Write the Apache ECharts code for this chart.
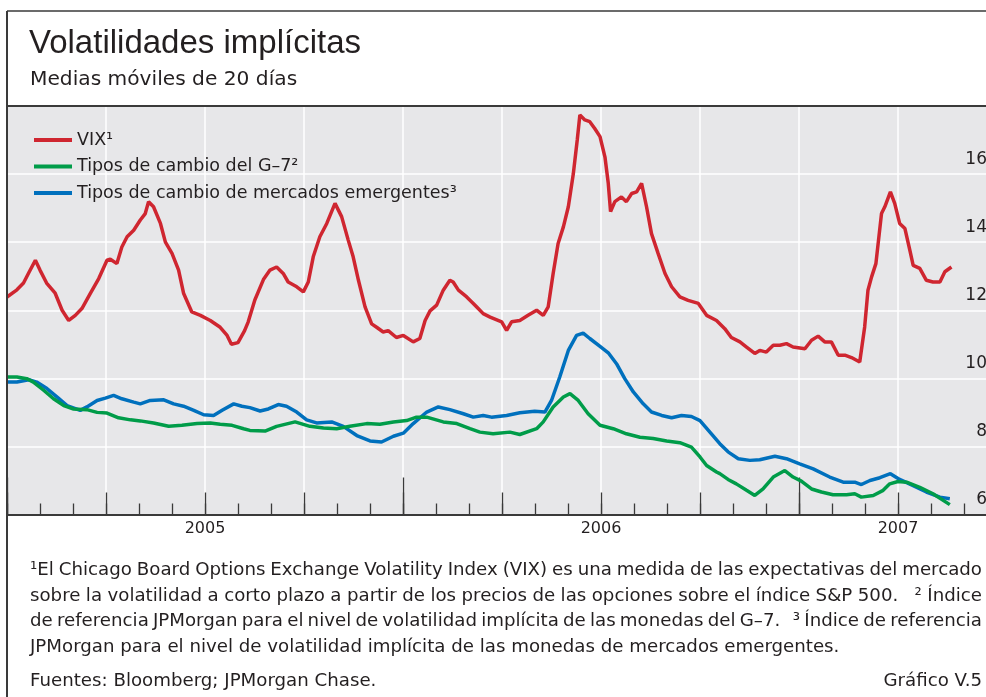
<!DOCTYPE html>
<html>
<head>
<meta charset="utf-8">
<script src="https://cdn.jsdelivr.net/npm/echarts@6/dist/echarts.min.js"></script>
<style>
html,body{margin:0;padding:0;background:#fff;}
#c{width:986px;height:697px;}
</style>
</head>
<body>
<div id="c"></div>
<script>
// x values: months since 1 Jan 2005
var vixMonths = [0,0.3,0.5,0.66,0.86,1.0,1.2,1.46,1.67,1.87,2.07,2.27,2.53,2.78,3.03,3.13,3.33,3.48,3.64,3.84,4.04,4.19,4.29,4.44,4.65,4.8,5.0,5.2,5.35,5.6,5.86,6.16,6.46,6.67,6.8,7.0,7.2,7.31,7.51,7.77,7.97,8.17,8.37,8.52,8.78,8.98,9.13,9.28,9.48,9.69,9.94,10.14,10.34,10.49,10.65,10.85,11.05,11.2,11.4,11.55,11.8,12.01,12.31,12.51,12.67,12.82,13.02,13.22,13.42,13.52,13.68,13.93,14.13,14.28,14.43,14.64,14.99,15.14,15.29,15.54,15.79,16.05,16.25,16.4,16.55,16.7,16.86,17.01,17.16,17.28,17.36,17.51,17.66,17.81,17.97,18.12,18.22,18.29,18.42,18.62,18.77,18.93,19.08,19.23,19.38,19.53,19.73,19.94,20.14,20.39,20.64,20.95,21.2,21.5,21.75,21.95,22.21,22.41,22.66,22.81,23.01,23.22,23.42,23.62,23.82,24.18,24.38,24.58,24.78,24.98,25.19,25.39,25.59,25.84,25.99,26.09,26.2,26.33,26.5,26.6,26.77,26.9,27.05,27.21,27.36,27.46,27.66,27.86,28.06,28.27,28.42,28.62];
var vixValues = [12.39,12.6,12.8,13.1,13.47,13.18,12.8,12.5,12.0,11.7,11.85,12.05,12.5,12.93,13.47,13.5,13.37,13.86,14.16,14.35,14.65,14.84,15.19,15.04,14.55,14.0,13.67,13.18,12.5,11.95,11.85,11.7,11.5,11.26,11.0,11.05,11.4,11.66,12.3,12.9,13.18,13.27,13.08,12.83,12.69,12.54,12.83,13.57,14.16,14.55,15.14,14.75,14.06,13.57,12.88,12.1,11.6,11.5,11.36,11.4,11.2,11.26,11.07,11.17,11.7,11.98,12.15,12.59,12.88,12.83,12.59,12.39,12.2,12.05,11.9,11.8,11.66,11.41,11.66,11.7,11.85,12.0,11.85,12.1,13.08,13.96,14.45,15.04,16.0,17.0,17.74,17.59,17.54,17.34,17.1,16.5,15.73,14.9,15.19,15.33,15.19,15.43,15.48,15.73,15.04,14.25,13.67,13.08,12.69,12.39,12.29,12.2,11.85,11.7,11.46,11.2,11.07,10.92,10.73,10.82,10.77,10.97,10.97,11.02,10.92,10.87,11.12,11.24,11.07,11.07,10.68,10.68,10.61,10.48,11.51,12.59,12.98,13.37,14.84,15.04,15.48,15.14,14.55,14.4,13.76,13.32,13.23,12.88,12.83,12.83,13.13,13.27];

var g7Months = [0,0.3,0.6,0.8,1.11,1.41,1.72,2.02,2.42,2.73,3.03,3.38,3.74,4.04,4.44,4.9,5.3,5.76,6.16,6.46,6.82,7.17,7.36,7.82,8.17,8.73,9.18,9.59,9.99,10.39,10.9,11.3,11.71,12.11,12.41,12.72,13.22,13.63,14.03,14.33,14.73,15.24,15.54,16.05,16.25,16.55,16.86,17.06,17.31,17.61,17.97,18.37,18.77,19.18,19.58,19.99,20.39,20.74,21.0,21.2,21.5,21.6,21.85,22.1,22.41,22.66,22.91,23.22,23.57,23.82,24.07,24.38,24.68,25.03,25.44,25.69,25.89,26.25,26.55,26.75,27.0,27.26,27.66,28.06,28.57];
var g7Values = [10.04,10.04,9.99,9.89,9.65,9.4,9.2,9.1,9.08,9.0,8.98,8.84,8.78,8.75,8.69,8.59,8.62,8.67,8.69,8.65,8.62,8.52,8.47,8.45,8.59,8.72,8.59,8.54,8.52,8.59,8.67,8.65,8.72,8.76,8.86,8.86,8.72,8.67,8.52,8.42,8.37,8.42,8.35,8.52,8.72,9.16,9.45,9.55,9.35,8.96,8.62,8.52,8.37,8.27,8.23,8.16,8.11,7.98,7.69,7.44,7.25,7.2,7.03,6.9,6.71,6.56,6.75,7.1,7.29,7.1,6.98,6.75,6.66,6.58,6.58,6.61,6.51,6.56,6.71,6.9,6.97,6.95,6.8,6.61,6.29];

var emMonths = [0,0.3,0.66,0.9,1.21,1.52,1.82,2.22,2.42,2.73,2.98,3.23,3.48,3.84,4.04,4.34,4.75,5.05,5.35,5.66,5.96,6.26,6.52,6.87,7.12,7.36,7.67,7.92,8.22,8.47,8.78,9.08,9.38,9.84,10.19,10.6,11.0,11.35,11.71,12.01,12.31,12.72,13.07,13.42,13.83,14.13,14.43,14.68,15.14,15.54,15.99,16.3,16.5,16.75,17.01,17.26,17.46,17.66,17.97,18.22,18.47,18.72,18.98,19.28,19.53,19.84,20.14,20.44,20.74,21.0,21.3,21.6,21.85,22.16,22.51,22.81,23.27,23.62,24.02,24.43,24.93,25.34,25.69,25.89,26.15,26.45,26.77,27.05,27.46,27.86,28.27,28.57];
var emValues = [9.89,9.89,9.96,9.89,9.7,9.45,9.2,9.06,9.16,9.35,9.42,9.5,9.4,9.3,9.25,9.35,9.37,9.25,9.18,9.06,8.93,8.91,9.06,9.25,9.18,9.14,9.04,9.1,9.23,9.18,9.01,8.78,8.69,8.72,8.59,8.32,8.16,8.13,8.3,8.39,8.67,9.01,9.16,9.08,8.96,8.86,8.91,8.86,8.91,8.99,9.03,9.01,9.35,10.04,10.82,11.26,11.33,11.17,10.94,10.75,10.43,9.99,9.6,9.25,9.01,8.91,8.84,8.91,8.88,8.76,8.42,8.08,7.84,7.64,7.59,7.61,7.71,7.64,7.49,7.34,7.1,6.95,6.95,6.88,7.0,7.08,7.2,7.03,6.85,6.66,6.51,6.46];

var seriesNames = ['VIX\u00B9', 'Tipos de cambio del G\u20137\u00B2', 'Tipos de cambio de mercados emergentes\u00B3'];
var yearLabels = {6: '2005', 18: '2006', 27: '2007'};
var yTicks = [6, 8, 10, 12, 14, 16];

var titleText = 'Volatilidades implícitas';
var subtitleText = 'Medias móviles de 20 días';
var noteLines = [
  '\u00B9El Chicago Board Options Exchange Volatility Index (VIX) es una medida de las expectativas del mercado',
  'sobre la volatilidad a corto plazo a partir de los precios de las opciones sobre el índice S&P 500.   \u00B2 Índice',
  'de referencia JPMorgan para el nivel de volatilidad implícita de las monedas del G\u20137.   \u00B3 Índice de referencia',
  'JPMorgan para el nivel de volatilidad implícita de las monedas de mercados emergentes.'
];
var sourceText = 'Fuentes: Bloomberg; JPMorgan Chase.';
var chartId = 'Gráfico V.5';

function pairs(xs, ys){ return xs.map(function(x,i){ return [x, ys[i]]; }); }

var FONT = '"Liberation Sans", Arial, sans-serif';
var BODY = '"DejaVu Sans", sans-serif';
var TXT = '#231f20';

// justified footnote lines (word placement)
var mctx = document.createElement('canvas').getContext('2d');
function justified(text, x0, x1, y, font, justify){
  mctx.font = font;
  var words = text.split(' ');
  var sp = mctx.measureText(' ').width;
  var ws = words.map(function(w){ return w ? mctx.measureText(w).width : 0; });
  var natural = ws.reduce(function(a,b){return a+b;},0) + sp*(words.length-1);
  var extra = justify && words.length > 1 ? (x1 - x0 - natural)/(words.length-1) : 0;
  var out = [], x = x0;
  words.forEach(function(w,i){
    if (w) out.push({type:'text', z:100, style:{x:x, y:y, text:w, font:font, fill:TXT, verticalAlign:'middle'}});
    x += ws[i] + sp + extra;
  });
  return out;
}

var NOTEFONT = '18.2px ' + BODY;
var graphics = [
  {type: 'line', z: 100, shape: {x1: 7, y1: 11, x2: 986, y2: 11}, style: {stroke: '#3a3a3a', lineWidth: 1.5}},
  {type: 'line', z: 100, shape: {x1: 7, y1: 11, x2: 7, y2: 697}, style: {stroke: '#3a3a3a', lineWidth: 2}},
  {type: 'line', z: 100, shape: {x1: 7, y1: 106, x2: 986, y2: 106}, style: {stroke: '#3a3a3a', lineWidth: 2}},
  {type: 'text', z: 100, style: {x: 29, y: 44, text: titleText, font: '33px ' + FONT, fill: TXT, verticalAlign: 'middle'}},
  {type: 'text', z: 100, style: {x: 30, y: 80, text: subtitleText, font: '20.2px ' + BODY, fill: TXT, verticalAlign: 'middle'}},
  {type: 'text', z: 100, style: {x: 30, y: 681, text: sourceText, font: NOTEFONT, fill: TXT, verticalAlign: 'middle'}},
  {type: 'text', z: 100, style: {x: 982, y: 681, text: chartId, font: NOTEFONT, fill: TXT, verticalAlign: 'middle', align: 'right'}}
];
var noteY = [570, 596, 621.5, 647];
noteLines.forEach(function(t, i){
  graphics = graphics.concat(justified(t, 30, 982, noteY[i], NOTEFONT, i < 3));
});

var chart = echarts.init(document.getElementById('c'), null, {renderer:'canvas'});
var option = {
  animation: false,
  backgroundColor: '#ffffff',
  textStyle: {fontFamily: BODY},
  grid: {left: 7, right: -11, top: 106, bottom: 182.5, show: true, backgroundColor: '#e7e7e9', borderWidth: 0, outerBoundsMode: 'none', containLabel: false},
  legend: {
    left: 29, top: 126, orient: 'vertical', itemWidth: 38, itemHeight: 4, itemGap: 8.5,
    icon: 'rect', textStyle: {fontSize: 17.5, color: TXT, fontFamily: BODY},
    data: seriesNames
  },
  xAxis: [
    {type: 'value', min: 0, max: 30, interval: 1, position: 'bottom',
     axisLine: {show: true, lineStyle: {color: '#3a3a3a', width: 2}},
     axisTick: {show: true, inside: true, length: 11, lineStyle: {color: '#3a3a3a', width: 1.3}},
     axisLabel: {show: false}, splitLine: {show: false}},
    {type: 'value', min: 0, max: 30, interval: 3, position: 'bottom',
     axisLine: {show: false},
     axisTick: {show: true, inside: true, length: 22, lineStyle: {color: '#3a3a3a', width: 1.3}},
     axisLabel: {show: true, margin: 6, fontSize: 16, color: TXT, fontFamily: BODY,
       formatter: function(v){ return yearLabels[v] || ''; }},
     splitLine: {show: true, lineStyle: {color: '#ffffff', width: 1.5}}},
    {type: 'value', min: 0, max: 30, interval: 12, position: 'bottom',
     axisLine: {show: false},
     axisTick: {show: true, inside: true, length: 37, lineStyle: {color: '#3a3a3a', width: 1.3}},
     axisLabel: {show: false}, splitLine: {show: false}}
  ],
  yAxis: {
    type: 'value', min: 6, max: 18, interval: 2, position: 'right',
    axisLine: {show: false}, axisTick: {show: false},
    axisLabel: {show: true, inside: true, margin: 10, fontSize: 17, color: TXT, fontFamily: BODY,
      verticalAlign: 'bottom', padding: [0,0,6,0], showMaxLabel: false,
      formatter: function(v){ return yTicks.indexOf(v) >= 0 ? String(v) : ''; }},
    splitLine: {show: true, lineStyle: {color: '#ffffff', width: 1.5}}
  },
  series: [
    {name: seriesNames[0], type: 'line', data: pairs(vixMonths, vixValues), showSymbol: false,
     lineStyle: {color: '#cf2630', width: 3.5}, itemStyle: {color: '#cf2630'}, z: 5},
    {name: seriesNames[1], type: 'line', data: pairs(g7Months, g7Values), showSymbol: false,
     lineStyle: {color: '#009c49', width: 3.5}, itemStyle: {color: '#009c49'}, z: 4},
    {name: seriesNames[2], type: 'line', data: pairs(emMonths, emValues), showSymbol: false,
     lineStyle: {color: '#0070bd', width: 3.5}, itemStyle: {color: '#0070bd'}, z: 3}
  ],
  graphic: graphics
};
chart.setOption(option);
</script>
</body>
</html>
